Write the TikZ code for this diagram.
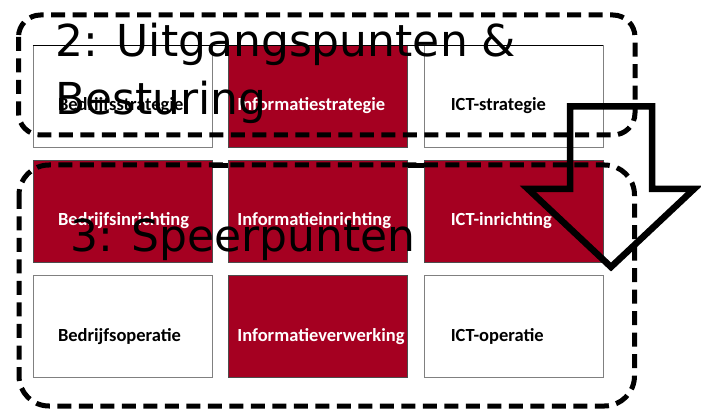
\documentclass[tikz,border=0pt]{standalone}
\usepackage{fontspec}
\setmainfont{Carlito}
\newfontfamily\titlefont{DejaVu Sans}
\usepackage{tikz}
\usetikzlibrary{positioning}
\definecolor{wine}{HTML}{A50021}

\begin{document}
\begin{tikzpicture}[x=1pt, y=1pt, node distance=12.5pt and 16pt,
    cell/.style={rectangle, draw=black!50, minimum width=179pt, minimum height=102pt, inner sep=0pt},
    lbl/.style={anchor=base west, inner sep=0pt, font=\bfseries\fontsize{18.5}{20}\selectfont},
    title/.style={anchor=base west, inner sep=0pt, align=left, font=\titlefont\fontsize{44}{58}\selectfont},
    zone/.style={draw, line width=5pt, dash pattern=on 14pt off 7.5pt}]
    \useasboundingbox (0,0) rectangle (701,-411);
    \node[cell] (b11) at (122.5,-96) {};
    \node[cell] (b12) [fill=wine, draw=black!70, right=of b11] {};
    \node[cell] (b13) [right=of b12] {};
    \node[cell] (b21) [fill=wine, draw=black!70, below=of b11] {};
    \node[cell] (b22) [fill=wine, draw=black!70, right=of b21] {};
    \node[cell] (b23) [fill=wine, draw=black!70, right=of b22] {};
    \node[cell] (b31) [below=of b21] {};
    \node[cell] (b32) [fill=wine, draw=black!70, right=of b31] {};
    \node[cell] (b33) [right=of b32] {};
    \draw[thin] (b11.north west) -- (b13.north east);
    \draw[line width=5pt] ([yshift=-5.5pt]b21.north east) -- ([yshift=-5.5pt]b22.north west);
    \draw[line width=5pt] ([yshift=-5.5pt]b22.north east) -- ([yshift=-5.5pt]b23.north west);
    \node[lbl] (t11) at ([shift={(25pt,-15pt)}]b11.west) {Bedrijfsstrategie};
    \node[lbl, text=white] (t12) at ([shift={(9pt,-15pt)}]b12.west) {Informatiestrategie};
    \node[lbl] (t13) at ([shift={(27pt,-15pt)}]b13.west) {ICT-strategie};
    \node[lbl, text=white] (t21) at ([shift={(25pt,-15pt)}]b21.west) {Bedrijfsinrichting};
    \node[lbl, text=white] (t22) at ([shift={(9pt,-15pt)}]b22.west) {Informatieinrichting};
    \node[lbl, text=white] (t23) at ([shift={(27pt,-15pt)}]b23.west) {ICT-inrichting};
    \node[lbl] (t31) at ([shift={(25pt,-16pt)}]b31.west) {Bedrijfsoperatie};
    \node[lbl, text=white] (t32) at ([shift={(9pt,-16pt)}]b32.west) {Informatieverwerking};
    \node[lbl] (t33) at ([shift={(27pt,-16pt)}]b33.west) {ICT-operatie};
    \draw[zone, rounded corners=22pt] (18.5,-15) rectangle (635,-135);
    \draw[zone, rounded corners=30pt] (19,-165) rectangle (634.5,-406);
    \node[title] (uitgang) at (55,-115) {2: Uitgangspunten \&\\Besturing};
    \node[title] (speer) at (70,-252) {3: Speerpunten};
    \draw[line width=6.5pt] (570,-106.5) -- (652,-106.5) -- (652,-189) -- (694,-189)
        -- (611,-267) -- (528,-189) -- (570,-189) -- cycle;
\end{tikzpicture}
\end{document}
